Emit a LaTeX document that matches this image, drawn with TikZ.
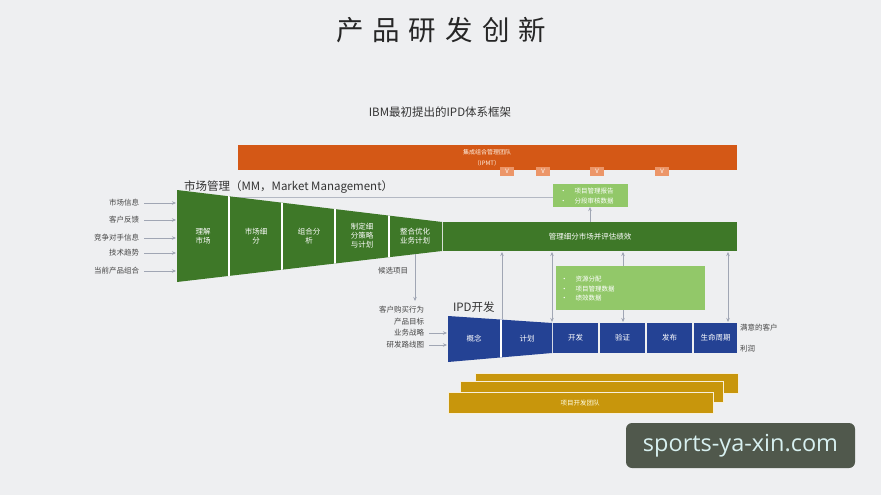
\documentclass[tikz,border=0pt]{standalone}
\usepackage{fontspec}
\setmainfont{Noto Sans CJK SC}
\newfontfamily\wmfont{Open Sans}
\usetikzlibrary{arrows.meta,calc}
\definecolor{bgc}{RGB}{238,239,241}
\definecolor{mmgreen}{RGB}{62,120,40}
\definecolor{ltgreen}{RGB}{146,200,105}
\definecolor{ipmtor}{RGB}{212,88,22}
\definecolor{tabor}{RGB}{236,150,105}
\definecolor{ipdblue}{RGB}{36,66,148}
\definecolor{gold}{RGB}{200,150,12}
\definecolor{txtgray}{RGB}{70,70,70}
\definecolor{arrgray}{RGB}{160,166,180}
\definecolor{wmbg}{RGB}{80,88,76}
\definecolor{wmtxt}{RGB}{215,240,240}
\begin{document}
\begin{tikzpicture}[x=1pt,y=-1pt,
  every node/.style={inner sep=0pt,outer sep=0pt},
  lbl/.style={font=\fontsize{7.5}{9}\selectfont,text=txtgray},
  seg/.style={font=\fontsize{7.5}{9}\selectfont,text=white,align=center},
  bul/.style={font=\fontsize{6.5}{8}\selectfont,text=white,anchor=west},
  conn/.style={draw=arrgray,line width=0.6pt,-{Stealth[length=4pt,width=3.5pt]}},
  conn2/.style={draw=arrgray,line width=0.6pt,{Stealth[length=4pt,width=3.5pt]}-{Stealth[length=4pt,width=3.5pt]}},
  bigt/.style={font=\fontsize{11.5}{13}\selectfont,text=black!80},
  gbar/.style={fill=gold,draw=white!85!gold,line width=0.5pt},
  tab/.style={fill=tabor,minimum width=14pt,minimum height=9pt,font=\fontsize{6}{6}\selectfont,text=white}
]
\fill[bgc] (0,0) rectangle (881,495);
\useasboundingbox (0,0) rectangle (881,495);

% titles
\node (title) at (441,30) {\fontsize{27.5}{30}\selectfont\color{black!85}产\hspace{9pt}品\hspace{9pt}研\hspace{9pt}发\hspace{9pt}创\hspace{9pt}新};
\node[bigt] (sub) at (440,112) {IBM最初提出的IPD体系框架};

% IPMT bar
\fill[ipmtor] (238,145) rectangle (737,170);
\node[font=\fontsize{6}{7}\selectfont,text=white!90!orange] (ipmt1) at (487,152) {集成组合管理团队};
\node[font=\fontsize{6}{7}\selectfont,text=white!90!orange] (ipmt2) at (487,163) {（IPMT）};
\foreach \x/\n in {507/t1,543/t2,597/t3,662/t4}
  \node[tab] (\n) at (\x,171) {V};

% MM title and line
\node[bigt,anchor=west] (mmt) at (184,187) {市场管理（MM，Market Management）};

% small green box
\node[fill=ltgreen,minimum width=75pt,minimum height=23pt,anchor=north west] (sbox) at (553,184) {};
\node[bul] (sb1) at (560,191) {•\hspace{8pt}项目管理报告};
\node[bul] (sb2) at (560,201) {•\hspace{8pt}分段审核数据};
\coordinate (lstart) at (228,197);
\draw[draw=arrgray!80,line width=0.5pt] (lstart) -- (sbox.west |- lstart);

% MM funnel
\coordinate (ftl) at (177,190);
\coordinate (fbl) at (177,282);
\coordinate (ftr) at (442,222);
\coordinate (fbr) at (442,251);
\begin{scope}
\clip (ftl) -- (ftr) -- (fbr) -- (fbl) -- cycle;
\fill[mmgreen] (170,185) rectangle (450,290);
\foreach \x in {229,282,335,389}
  \draw[white,line width=1.3pt] (\x,180) -- (\x,290);
\end{scope}
\fill[mmgreen] (443,222) rectangle (737,251);
\node[seg] (s1) at (203,236) {理解\\市场};
\node[seg] (s2) at (256,236) {市场细\\分};
\node[seg] (s3) at (309,236) {组合分\\析};
\node[seg] (s4) at (362,236) {制定细\\分策略\\与计划};
\node[seg] (s5) at (415,236) {整合优化\\业务计划};
\node[seg] (s6) at (590,237) {管理细分市场并评估绩效};
\coordinate (lbar) at (590,222);
\draw[conn] (lbar) -- (sbox.south -| lbar);

% left labels
\foreach \y/\t/\n in {203/市场信息/l1,220/客户反馈/l2,238/竞争对手信息/l3,253/技术趋势/l4,271/当前产品组合/l5}{
  \node[lbl,anchor=east] (\n) at (139,\y) {\t};
  \coordinate (\n e) at (176,\y);
  \draw[conn] ($(\n.east)+(5,0)$) -- (\n e);
}

% candidate projects
\node[lbl] (cand) at (393,271) {候选项目};
\coordinate (cv1) at (415,254);
\coordinate (cv2) at (415,301);
\draw[conn] (cv1) -- (cv2);
\node[lbl,anchor=east] (i1) at (424,310) {客户购买行为};
\node[lbl,anchor=east] (i2) at (424,322) {产品目标};
\node[lbl,anchor=east] (i3) at (424,333) {业务战略};
\node[lbl,anchor=east] (i4) at (424,345) {研发路线图};
\coordinate (i3e) at (447,333);
\coordinate (i4e) at (447,345);
\draw[conn] ($(i3.east)+(5,0)$) -- (i3e);
\draw[conn] ($(i4.east)+(5,0)$) -- (i4e);

% IPD
\node[bigt,anchor=west] (ipdt) at (453,307) {IPD开发};
\begin{scope}
\clip (448,316) -- (552,323) -- (552,353) -- (448,362) -- cycle;
\fill[ipdblue] (440,310) rectangle (560,370);
\draw[white,line width=1.3pt] (501,300) -- (501,370);
\end{scope}
\foreach \a/\b/\n in {553/598/b1,600/645/b2,647/692/b3,694/737/b4}
  \fill[ipdblue] (\a,323) rectangle (\b,353);
\node[seg] (p1) at (474,339) {概念};
\node[seg] (p2) at (527,339) {计划};
\node[seg] (p3) at (575.5,338) {开发};
\node[seg] (p4) at (622.5,338) {验证};
\node[seg] (p5) at (669.5,338) {发布};
\node[seg] (p6) at (715.5,338) {生命周期};
\node[lbl,anchor=west] (r1) at (740,328) {满意的客户};
\node[lbl,anchor=west] (r2) at (740,349) {利润};

% big green box
\node[fill=ltgreen,minimum width=149pt,minimum height=44pt,anchor=north west] (gbox) at (556,266) {};
\node[bul] (g1) at (561,279) {•\hspace{8pt}资源分配};
\node[bul] (g2) at (561,289) {•\hspace{8pt}项目管理数据};
\node[bul] (g3) at (561,298) {•\hspace{8pt}绩效数据};

% vertical connectors
\coordinate (v1b) at (502,319);
\coordinate (v1t) at (502,252);
\draw[conn] (v1b) -- (v1t);
\coordinate (v2b) at (552,322);
\coordinate (v2t) at (552,252);
\draw[conn2] (v2b) -- (v2t);
\coordinate (v3t) at (623,252);
\draw[conn] (gbox.north -| v3t) -- (v3t);
\coordinate (v3b) at (623,322);
\draw[conn] (gbox.south -| v3b) -- (v3b);
\coordinate (v4b) at (728,322);
\coordinate (v4t) at (728,252);
\draw[conn2] (v4b) -- (v4t);

% gold bars
\fill[gbar] (475,373) rectangle (738,393);
\fill[gbar] (460,381) rectangle (723,402);
\fill[gbar] (448,392) rectangle (713,413);
\node[font=\fontsize{6.5}{8}\selectfont,text=white!90!yellow] (team) at (580,403) {项目开发团队};

% watermark
\fill[wmbg,rounded corners=6pt] (626,423) rectangle (855,468);
\node[font=\wmfont\fontsize{23.5}{26}\selectfont,text=wmtxt] (wm) at (740.5,446) {sports-ya-xin.com};
\end{tikzpicture}
\end{document}
